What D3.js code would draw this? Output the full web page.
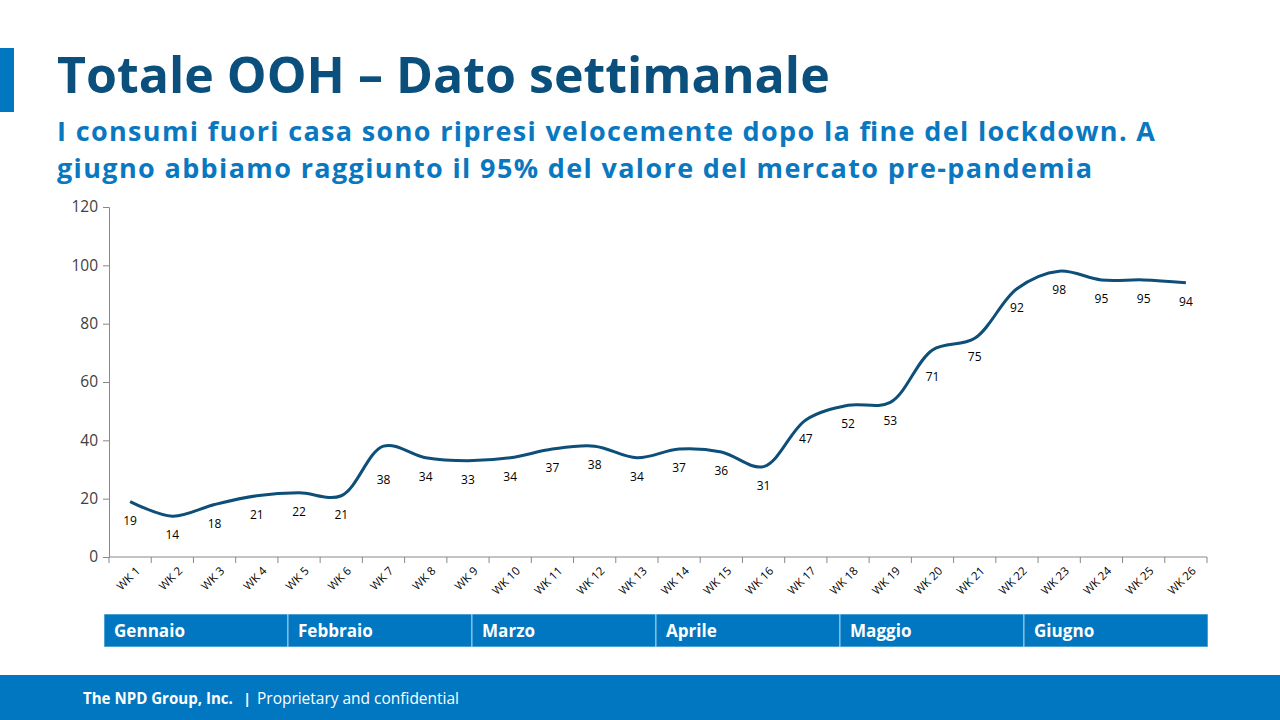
<!DOCTYPE html>
<html><head><meta charset="utf-8">
<script src="https://cdn.jsdelivr.net/npm/d3@7"></script>
<style>body{margin:0;background:#fff;}svg{display:block;}</style>
</head><body>
<svg id="c" width="1280" height="720"></svg>
<script>
const weeks = ["WK 1","WK 2","WK 3","WK 4","WK 5","WK 6","WK 7","WK 8","WK 9","WK 10","WK 11","WK 12","WK 13","WK 14","WK 15","WK 16","WK 17","WK 18","WK 19","WK 20","WK 21","WK 22","WK 23","WK 24","WK 25","WK 26"];
const values = [19,14,18,21,22,21,38,34,33,34,37,38,34,37,36,31,47,52,53,71,75,92,98,95,95,94];
const yTicks = [0,20,40,60,80,100,120];
const months = ["Gennaio","Febbraio","Marzo","Aprile","Maggio","Giugno"];

// layout: extra downward shift for a few data labels (as placed in the original)
const labelNudge = {"WK 7": 15, "WK 20": 8};

const font = "'Open Sans', sans-serif";
const svg = d3.select("#c");

function fit(sel, w){
  const n = sel.node(); const cur = n.getComputedTextLength();
  const fs = parseFloat(sel.attr("font-size"));
  sel.attr("font-size", fs * w / cur);
}

// left accent
svg.append("rect").attr("x",0).attr("y",48).attr("width",14).attr("height",64).attr("fill","#0077c0");
const title = svg.append("text").attr("x",57).attr("y",93).attr("font-family",font).attr("font-weight",700)
  .attr("font-size",46).attr("fill","#0b4f7c").text("Totale OOH – Dato settimanale");
fit(title, 773);
const sub = ["I consumi fuori casa sono ripresi velocemente dopo la fine del lockdown. A","giugno abbiamo raggiunto il 95% del valore del mercato pre-pandemia"];
const subW = [1098, 1035];
sub.forEach((s,i)=>{
  svg.append("text").attr("x",57).attr("y",141+i*37).attr("font-family",font)
    .attr("font-weight",700).attr("font-size",27).attr("fill","#0a78c0")
    .attr("textLength",subW[i]).attr("lengthAdjust","spacing").text(s);
});

const x = d3.scaleBand().domain(weeks).range([109,1207]);
const y = d3.scaleLinear().domain([0,120]).range([557,207]);

// y axis
const gy = svg.append("g").attr("transform","translate(109,0)")
  .call(d3.axisLeft(y).tickValues(yTicks).tickSize(6).tickPadding(5));
gy.select(".domain").attr("stroke","#888");
gy.selectAll(".tick line").attr("stroke","#888");
gy.selectAll("text").attr("font-family",font).attr("font-size",15.5).attr("fill","#404040");

// x axis
const gx = svg.append("g").attr("transform","translate(0,557)");
gx.append("line").attr("x1",109).attr("x2",1207).attr("stroke","#888");
const tickX = weeks.map(w=>x(w)).concat([1207]);
gx.selectAll("line.t").data(tickX).join("line").attr("class","t")
  .attr("x1",d=>d).attr("x2",d=>d).attr("y1",0).attr("y2",6).attr("stroke","#888");
gx.selectAll("text").data(weeks).join("text")
  .attr("transform",d=>`translate(${x(d)+x.bandwidth()/2+5},${9}) rotate(-45)`)
  .attr("text-anchor","end").attr("dy","0.7em").attr("font-family",font).attr("font-size",11.5)
  .attr("fill","#000").text(d=>d);

// line
const line = d3.line().x((d,i)=>x(weeks[i])+x.bandwidth()/2).y(d=>y(d)).curve(d3.curveCatmullRom.alpha(0.5));
svg.append("path").datum(values).attr("d",line).attr("fill","none").attr("stroke","#0d4f78").attr("stroke-width",3);

svg.selectAll("text.lbl").data(values).join("text").attr("class","lbl")
  .attr("x",(d,i)=>x(weeks[i])+x.bandwidth()/2).attr("y",(d,i)=>y(d)+23+(labelNudge[weeks[i]]||0))
  .attr("text-anchor","middle").attr("font-family",font).attr("font-size",12).attr("fill","#000").text(d=>d);

// month band
const mx = d3.scaleBand().domain(months).range([104,1208]);
svg.selectAll("rect.m").data(months).join("rect").attr("class","m")
  .attr("x",d=>mx(d)).attr("y",614).attr("width",mx.bandwidth()).attr("height",33).attr("fill","#0077c0")
  .attr("stroke","#ffffff").attr("stroke-opacity",0.6).attr("stroke-width",1);
const mt = svg.selectAll("text.m").data(months).join("text").attr("class","m")
  .attr("x",d=>mx(d)+10).attr("y",637).attr("font-family",font).attr("font-weight",700)
  .attr("font-size",16).attr("fill","#fff").text(d=>d);
fit(d3.select(mt.nodes()[0]), 71);
mt.attr("font-size", d3.select(mt.nodes()[0]).attr("font-size"));

// footer
svg.append("rect").attr("x",0).attr("y",675).attr("width",1280).attr("height",45).attr("fill","#0077c0");
const f1 = svg.append("text").attr("x",83).attr("y",704).attr("font-family",font).attr("font-weight",700)
  .attr("font-size",14).attr("fill","#fff").text("The NPD Group, Inc.");
fit(f1,150);
svg.append("text").attr("x",243).attr("y",704).attr("font-family",font).attr("font-weight",700)
  .attr("font-size",15).attr("fill","#fff").text("|");
const f2 = svg.append("text").attr("x",257).attr("y",704).attr("font-family",font)
  .attr("font-size",14).attr("fill","#fff").text("Proprietary and confidential");
fit(f2,202);
</script>
</body></html>
